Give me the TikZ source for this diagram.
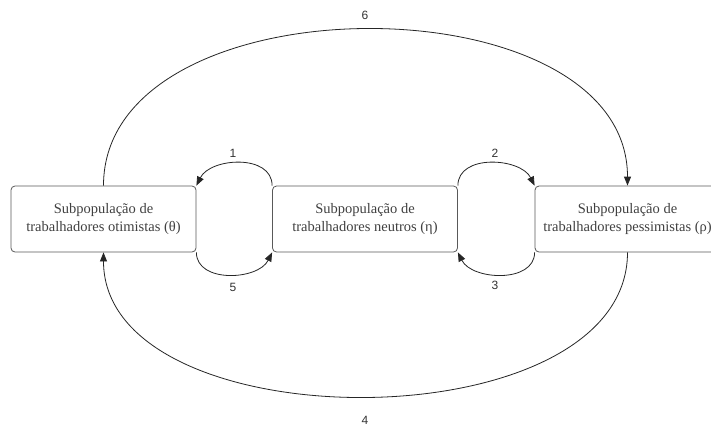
\documentclass[tikz,border=0pt]{standalone}
\usepackage{fontspec}
\setmainfont{Liberation Serif}
\newfontfamily\numfont{Liberation Sans}
\usetikzlibrary{arrows.meta}
\begin{document}
\begin{tikzpicture}[x=1pt,y=-1pt,
  box/.style={draw=black!65, rounded corners=4pt, minimum width=185pt, minimum height=66pt, inner sep=0pt, line width=0.8pt},
  txt/.style={align=center, text=black!75, font=\fontsize{14.5}{18}\selectfont},
  lbl/.style={font=\numfont\fontsize{12}{14}\selectfont, text=black!80},
  arr/.style={draw=black!85, line width=0.8pt, -{Triangle[length=9pt,width=7pt]}}]
\useasboundingbox (0,0) rectangle (711,426);
\clip (0,0) rectangle (711,426);
\fill[white] (0,0) rectangle (711,426);
\node[box] (b1) at (103.5,219) {};
\node[box] (b2) at (365,219) {};
\node[box] (b3) at (627.5,219) {};
\node[txt] (t1) at (b1) {Subpopulação de\\trabalhadores otimistas (θ)};
\node[txt] (t2) at (b2) {Subpopulação de\\trabalhadores neutros (η)};
\node[txt] (t3) at (b3) {Subpopulação de\\trabalhadores pessimistas (ρ)};
\draw[arr] (b2.north west) .. controls +(0,-32) and +(14,-28) .. (b1.north east);
\draw[arr] (b1.south east) .. controls +(0,31) and +(-14,28) .. (b2.south west);
\draw[arr] (b2.north east) .. controls +(0,-32) and +(-14,-28) .. (b3.north west);
\draw[arr] (b3.south west) .. controls +(0,31) and +(14,28) .. (b2.south east);
\draw[arr] (b1.north) .. controls +(0,-208) and +(0,-208) .. (b3.north);
\draw[arr] (b3.south) .. controls +(0,192) and +(0,192) .. (b1.south);
\node[lbl] (l1) at (233,153) {1};
\node[lbl] (l5) at (233,287) {5};
\node[lbl] (l2) at (495,153) {2};
\node[lbl] (l3) at (495,285) {3};
\node[lbl] (l6) at (365,15) {6};
\node[lbl] (l4) at (365,420) {4};
\end{tikzpicture}
\end{document}
